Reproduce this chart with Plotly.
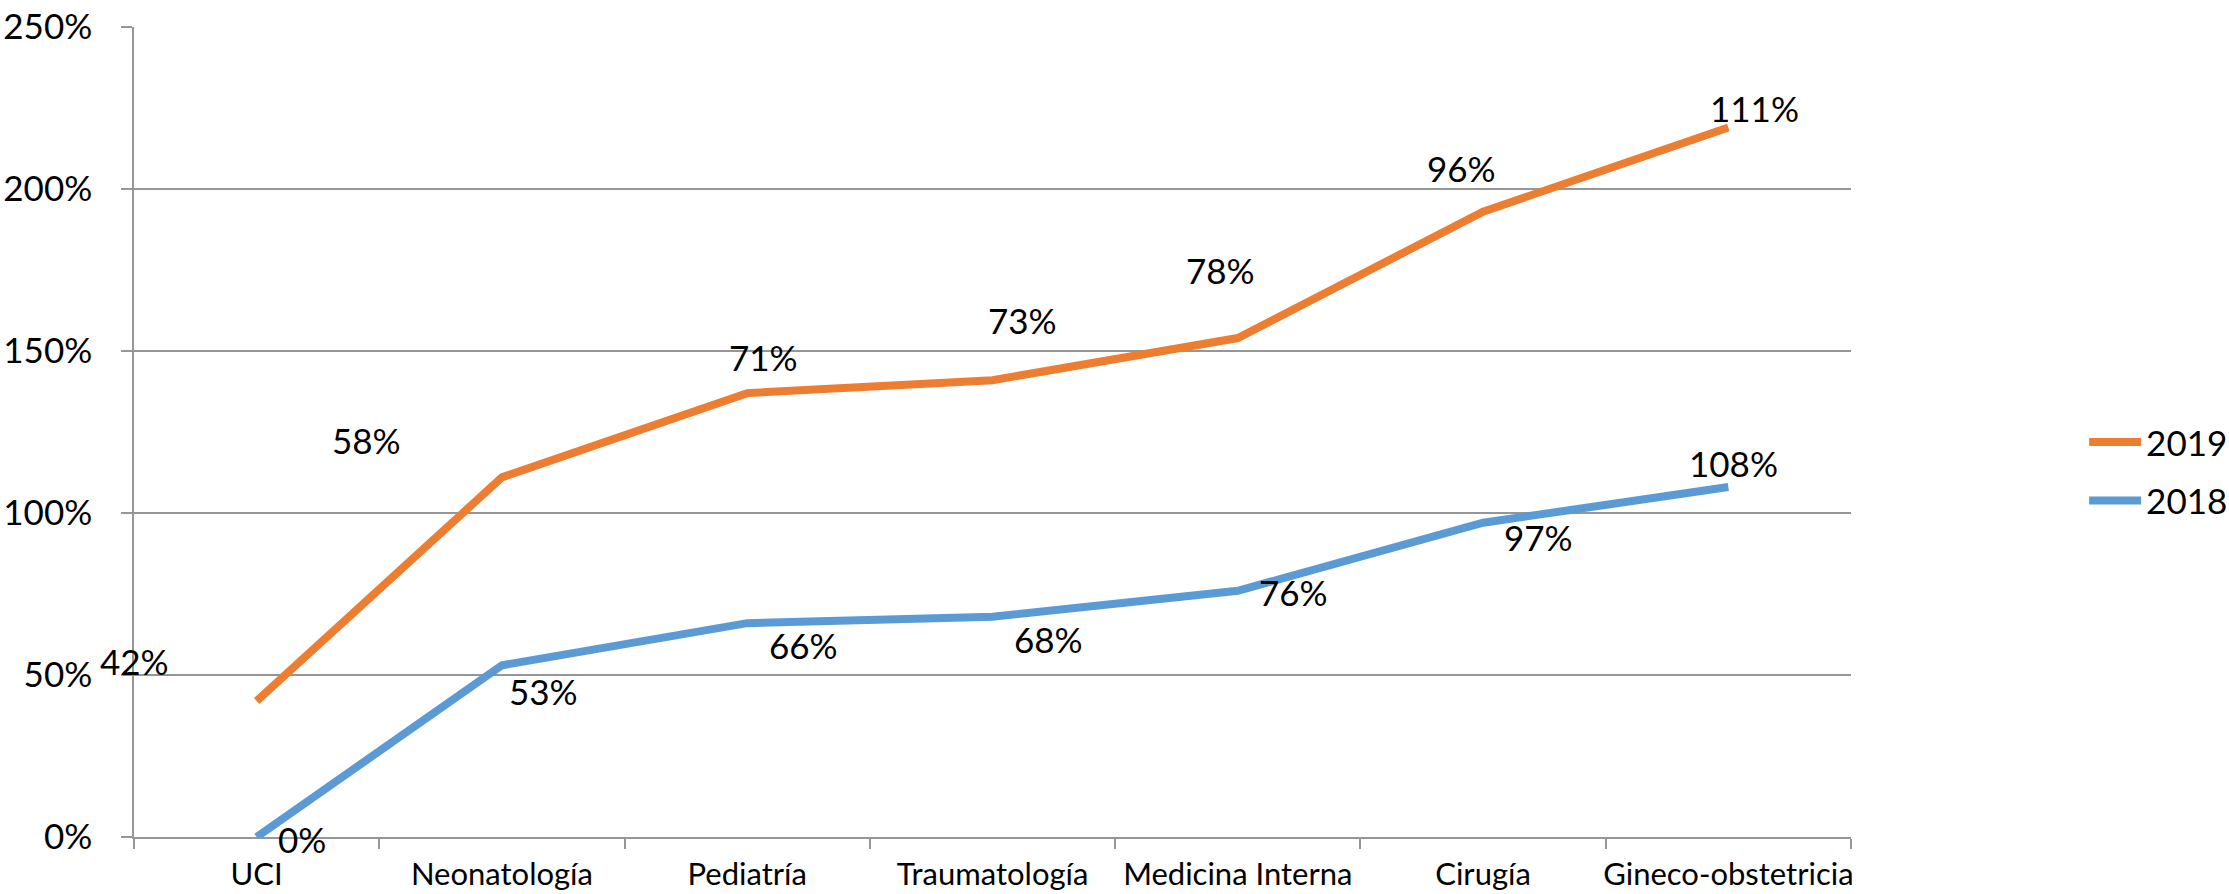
import plotly.graph_objects as go

categories = ["UCI", "Neonatología", "Pediatría", "Traumatología",
              "Medicina Interna", "Cirugía", "Gineco-obstetricia"]
values_2018 = [0.00, 0.53, 0.66, 0.68, 0.76, 0.97, 1.08]
values_2019 = [0.42, 0.58, 0.71, 0.73, 0.78, 0.96, 1.11]
y_ticks = [0, 0.5, 1.0, 1.5, 2.0, 2.5]

# label offsets in pixels (dx, dy; dy positive = up)
offsets_2018 = [(45, -2), (42, -26), (56, -22), (56, -22), (56, -1), (55, -14), (5, 24)]
offsets_2019 = [(-122, 40), (-135, 37), (16, 36), (30, 60), (-17, 68), (-22, 44), (26, 19)]

FONT = "Lato"
ORANGE = "#ED7D31"
BLUE = "#5B9BD5"
GRID = "#969696"
FS = 35

fig = go.Figure()
fig.add_trace(go.Scatter(x=categories, y=values_2018, name="2018", mode="lines",
                         stackgroup="s", fill="none",
                         line=dict(color=BLUE, width=8), legendgroup="a",
                         legendrank=2))
fig.add_trace(go.Scatter(x=categories, y=values_2019, name="2019", mode="lines",
                         stackgroup="s", fill="none",
                         line=dict(color=ORANGE, width=8), legendgroup="b",
                         legendrank=1))

stack_2019 = [a + b for a, b in zip(values_2018, values_2019)]
for c, v, (dx, dy) in zip(categories, values_2018, offsets_2018):
    fig.add_annotation(x=c, y=v, text=f"{round(v*100)}%", showarrow=False,
                       xshift=dx, yshift=dy, font=dict(family=FONT, size=FS, color="black"))
for c, v, s, (dx, dy) in zip(categories, values_2019, stack_2019, offsets_2019):
    fig.add_annotation(x=c, y=s, text=f"{round(v*100)}%", showarrow=False,
                       xshift=dx, yshift=dy, font=dict(family=FONT, size=FS, color="black"))

fig.update_layout(
    width=2229, height=894,
    margin=dict(l=134, r=378, t=27, b=57, autoexpand=False),
    paper_bgcolor="white", plot_bgcolor="white",
    font=dict(family=FONT, size=FS, color="black"),
    showlegend=True,
    legend=dict(xref="container", yref="container",
                x=0.935, y=0.473, xanchor="left", yanchor="middle",
                traceorder="grouped", tracegroupgap=10,
                font=dict(family=FONT, size=FS, color="black"),
                itemwidth=52, bgcolor="rgba(0,0,0,0)"),
    xaxis=dict(type="category", range=[-0.5, 6.5], showgrid=False,
               showline=True, linecolor=GRID, linewidth=1.5,
               ticks="outside", ticklen=10, tickcolor=GRID, tickwidth=1.5,
               tickson="boundaries", automargin=False, tickangle=0,
               ticklabelstandoff=9,
               tickfont=dict(family=FONT, size=31, color="black")),
    yaxis=dict(range=[0, 2.5], tickvals=y_ticks, tickformat=".0%",
               showgrid=True, gridcolor=GRID, gridwidth=1.5,
               showline=True, linecolor=GRID, linewidth=1.5,
               ticks="outside", ticklen=11, tickcolor=GRID, tickwidth=1.5,
               zeroline=False, automargin=False, ticklabelstandoff=22,
               tickfont=dict(family=FONT, size=FS, color="black")),
)

fig.write_html("out.html", config={"displayModeBar": False},
               post_script="document.body.style.margin='0px';")
